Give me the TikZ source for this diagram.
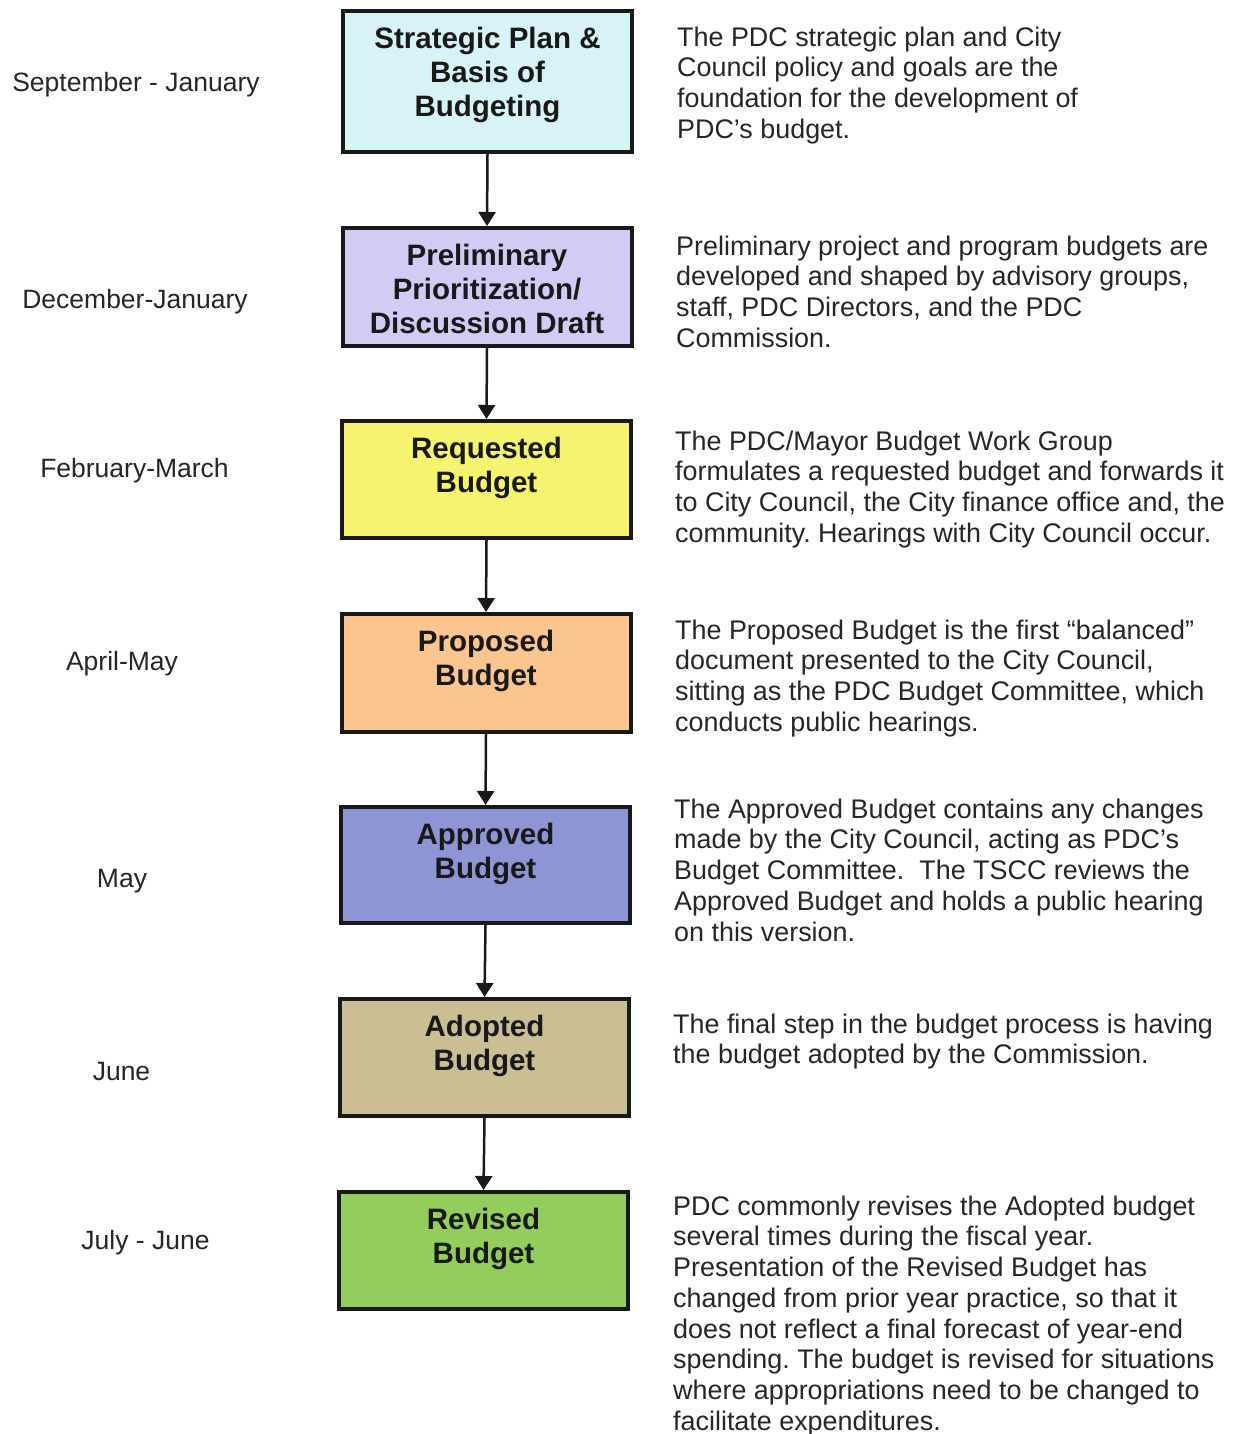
\documentclass[tikz,border=0pt]{standalone}
\usepackage{fontspec}
\setmainfont{Liberation Sans}
\usetikzlibrary{arrows.meta}
\definecolor{stratfill}{HTML}{D6F3F7}
\definecolor{prelimfill}{HTML}{D0CCF5}
\definecolor{reqfill}{HTML}{F6F36E}
\definecolor{propfill}{HTML}{FAC58F}
\definecolor{apprfill}{HTML}{8D95D4}
\definecolor{adopfill}{HTML}{C9BE94}
\definecolor{revfill}{HTML}{93CD5C}
\newcommand{\stagetext}[2]{\begin{minipage}[c][#1][t]{284pt}\centering\vspace*{14pt}\strut #2\end{minipage}}
\frenchspacing
\begin{document}
\begin{tikzpicture}[x=1pt,y=-1pt,
    stage/.style={draw=black!90,line width=4pt,inner sep=0pt,minimum width=289pt,
        font=\fontsize{29.5}{34}\selectfont\bfseries,text=black!90},
    when/.style={anchor=base,font=\fontsize{26.5}{30.7}\selectfont,text=black!85},
    note/.style={anchor=north west,align=left,inner sep=0pt,
        font=\fontsize{26.9}{30.7}\selectfont,text=black!85},
    flow/.style={line width=2.5pt,draw=black!90,-{Triangle[width=17pt,length=14pt]}}]
    \fill[white] (0,0) rectangle (1243,1434);
    \useasboundingbox (0,0) rectangle (1243,1434);
    %% stages
    \node[stage,fill=stratfill] (strat) at (487.5,81.5) {\stagetext{141pt}{Strategic Plan \&\\Basis of\\Budgeting}};
    \node[stage,fill=prelimfill] (prelim) at (487,287) {\stagetext{118pt}{Preliminary\\Prioritization/\\Discussion Draft}};
    \node[stage,fill=reqfill] (req) at (486.5,479.5) {\stagetext{117pt}{Requested\\Budget}};
    \node[stage,fill=propfill] (prop) at (486,673) {\stagetext{118pt}{Proposed\\Budget}};
    \node[stage,fill=apprfill] (appr) at (485.5,865) {\stagetext{116pt}{Approved\\Budget}};
    \node[stage,fill=adopfill] (adop) at (484.5,1057.5) {\stagetext{117pt}{Adopted\\Budget}};
    \node[stage,fill=revfill] (rev) at (483.5,1250.5) {\stagetext{117pt}{Revised\\Budget}};
    \foreach \a/\b in {strat/prelim,prelim/req,req/prop,prop/appr,appr/adop,adop/rev}
        \draw[flow] (\a.south) -- (\b.north);
    %% time spans
    \node[when] (tstrat) at (136,91.5) {September - January};
    \node[when] (tprelim) at (135,308.5) {December-January};
    \node[when] (treq) at (134.5,477.5) {February-March};
    \node[when] (tprop) at (122,670.5) {April-May};
    \node[when] (tappr) at (122,887.5) {May};
    \node[when] (tadop) at (121.5,1080.5) {June};
    \node[when] (trev) at (145.5,1249.5) {July - June};
    %% descriptions
    \node[note] (nstrat) at (677,26.5) {The PDC strategic plan and City\\Council policy and goals are the\\foundation for the development of\\PDC’s budget.};
    \node[note] (nprelim) at (676,235.5) {Preliminary project and program budgets are\\developed and shaped by advisory groups,\\staff, PDC Directors, and the PDC\\Commission.};
    \node[note] (nreq) at (675,430.5) {The PDC/Mayor Budget Work Group\\formulates a requested budget and forwards it\\to City Council, the City finance office and, the\\community. Hearings with City Council occur.};
    \node[note] (nprop) at (675,619.5) {The Proposed Budget is the first “balanced”\\document presented to the City Council,\\sitting as the PDC Budget Committee, which\\conducts public hearings.};
    \node[note] (nappr) at (674,798.5) {The Approved Budget contains any changes\\made by the City Council, acting as PDC’s\\Budget Committee.\ \ The TSCC reviews the\\Approved Budget and holds a public hearing\\on this version.};
    \node[note] (nadop) at (673,1013.5) {The final step in the budget process is having\\the budget adopted by the Commission.};
    \node[note] (nrev) at (673,1195.5) {PDC commonly revises the Adopted budget\\several times during the fiscal year.\\Presentation of the Revised Budget has\\changed from prior year practice, so that it\\does not reflect a final forecast of year-end\\spending. The budget is revised for situations\\where appropriations need to be changed to\\facilitate expenditures.};
\end{tikzpicture}
\end{document}
